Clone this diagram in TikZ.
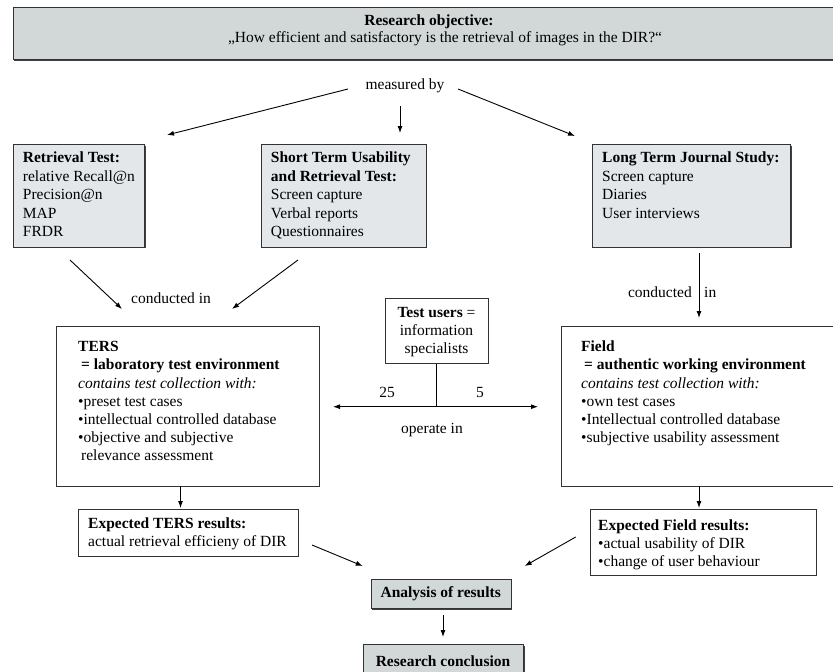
\documentclass[tikz,border=0pt]{standalone}
\usepackage{fontspec}
\setmainfont{Liberation Serif}
\usetikzlibrary{arrows.meta,shadows}
\definecolor{darkbox}{HTML}{D2D8D8}
\definecolor{lightbox}{HTML}{E3E7EA}
\definecolor{edge}{HTML}{333333}
\newcommand{\fs}{\fontsize{15.5}{18}\selectfont}
\newcommand{\fsw}{\fontsize{15.5}{18.5}\selectfont}
\begin{document}
\begin{tikzpicture}[x=1pt,y=-1pt,
  frame/.style={draw=edge, line width=1pt, inner sep=0pt, anchor=north west, fill=#1},
  frame/.default=white,
  shad/.style={drop shadow={shadow xshift=1pt, shadow yshift=-1pt, fill=black!75, opacity=1}},
  txt/.style={anchor=north west, inner sep=0pt, align=left, font=\fs},
  lbl/.style={inner sep=0pt, font=\fs},
  arr/.style={-{Latex[length=7pt,width=5pt]}, line width=0.9pt},
  ln/.style={line width=0.9pt}]
\useasboundingbox (0,0) rectangle (833,672);
\clip (0,0) rectangle (833,672);

% boxes
\node[frame=darkbox, shad, minimum width=830pt, minimum height=52.5pt] (obj) at (12.5,6.5) {};
\node[frame=lightbox, shad, minimum width=131.5pt, minimum height=102.7pt] (ret) at (12.5,144) {};
\node[frame=lightbox, shad, minimum width=165pt, minimum height=102.7pt] (stu) at (260.7,144) {};
\node[frame=lightbox, shad, minimum width=198pt, minimum height=102.7pt] (ltj) at (592,144) {};
\node[frame, minimum width=102.7pt, minimum height=65pt] (tu) at (385,297.7) {};
\node[frame, minimum width=263.3pt, minimum height=160pt] (ters) at (56,326) {};
\node[frame, minimum width=290pt, minimum height=160pt] (field) at (560.7,326) {};
\node[frame, minimum width=219.7pt, minimum height=47pt] (expt) at (78,509) {};
\node[frame, minimum width=226.3pt, minimum height=66pt] (expf) at (589.7,509) {};
\node[frame=darkbox, shad, minimum width=140pt, minimum height=29pt] (ana) at (370.7,579) {};
\node[frame=darkbox, shad, minimum width=160pt, minimum height=40pt] (con) at (363,644) {};

% texts
\node[lbl, font=\fs\bfseries] (objt1) at (429,21.5) {Research objective:};
\node[lbl] (objt2) at (445,39) {„How efficient and satisfactory is the retrieval of images in the DIR?“};
\node[lbl] (meas) at (405,86) {measured by};

\node[txt, font=\fsw] (rett) at (22.7,152) {\textbf{Retrieval Test:}\\relative Recall@n\\Precision@n\\MAP\\FRDR};
\node[txt, font=\fsw] (stut) at (270.7,152) {\textbf{Short Term Usability}\\\textbf{and Retrieval Test:}\\Screen capture\\Verbal reports\\Questionnaires};
\node[txt, font=\fsw] (ltjt) at (602,152) {\textbf{Long Term Journal Study:}\\Screen capture\\Diaries\\User interviews};

\node[lbl] (cin) at (171,298) {conducted in};
\node[lbl, anchor=east] (cond) at (692,292) {conducted};
\node[lbl, anchor=west] (cin2) at (704,292) {in};

\node[txt, anchor=north, align=center] (tut) at (436.5,307) {\textbf{Test users} =\\information\\specialists};

\node[txt] (terst) at (78,341) {\textbf{TERS}\\\hspace*{3pt}\textbf{= laboratory test environment}\\[1pt]\textit{contains test collection with:}\\•preset test cases\\•intellectual controlled database\\•objective and subjective\\\hspace*{3pt}relevance assessment};
\node[txt] (fieldt) at (581,341) {\textbf{Field}\\\hspace*{3pt}\textbf{= authentic working environment}\\[1pt]\textit{contains test collection with:}\\•own test cases\\•Intellectual controlled database\\•subjective usability assessment};

\node[lbl] (n25) at (387,392) {25};
\node[lbl] (n5) at (480,392) {5};
\node[lbl] (op) at (432,430) {operate in};

\node[txt] (exptt) at (88,518) {\textbf{Expected TERS results:}\\actual retrieval efficieny of DIR};
\node[txt] (expft) at (598,520) {\textbf{Expected Field results:}\\•actual usability of DIR\\•change of user behaviour};
\node[lbl, font=\fs\bfseries] (anat) at (440.7,594) {Analysis of results};
\node[lbl, font=\fs\bfseries] (cont) at (443,661) {Research conclusion};

% connector end points
\coordinate (m1) at (348,89);  \coordinate (m1e) at (167,135);
\coordinate (m2) at (400,106); \coordinate (m2e) at (400,133);
\coordinate (m3) at (458,89);  \coordinate (m3e) at (575,136);
\coordinate (c1) at (70,260);  \coordinate (c1e) at (122,309);
\coordinate (c2) at (298,260); \coordinate (c2e) at (232,309);
\coordinate (c3) at (699,253); \coordinate (c3e) at (699,318);
\coordinate (j) at (436,406.7);
\coordinate (jl) at (333,406.7); \coordinate (jr) at (538,406.7);
\coordinate (t1) at (180.5,486); \coordinate (t1e) at (180.5,508);
\coordinate (f1) at (699,486); \coordinate (f1e) at (699,508);
\coordinate (r1) at (312,545); \coordinate (r1e) at (362.7,566);
\coordinate (r2) at (575.7,537); \coordinate (r2e) at (524.7,566);
\coordinate (a1) at (443,615); \coordinate (a1e) at (443,637);

\draw[arr] (m1) -- (m1e);
\draw[arr] (m2) -- (m2e);
\draw[arr] (m3) -- (m3e);
\draw[arr] (c1) -- (c1e);
\draw[arr] (c2) -- (c2e);
\draw[arr] (c3) -- (c3e);
\draw[ln] (tu.south -| j) -- (j);
\draw[arr] (j) -- (jl);
\draw[arr] (j) -- (jr);
\draw[arr] (t1) -- (t1e);
\draw[arr] (f1) -- (f1e);
\draw[arr] (r1) -- (r1e);
\draw[arr] (r2) -- (r2e);
\draw[arr] (a1) -- (a1e);
\end{tikzpicture}
\end{document}
